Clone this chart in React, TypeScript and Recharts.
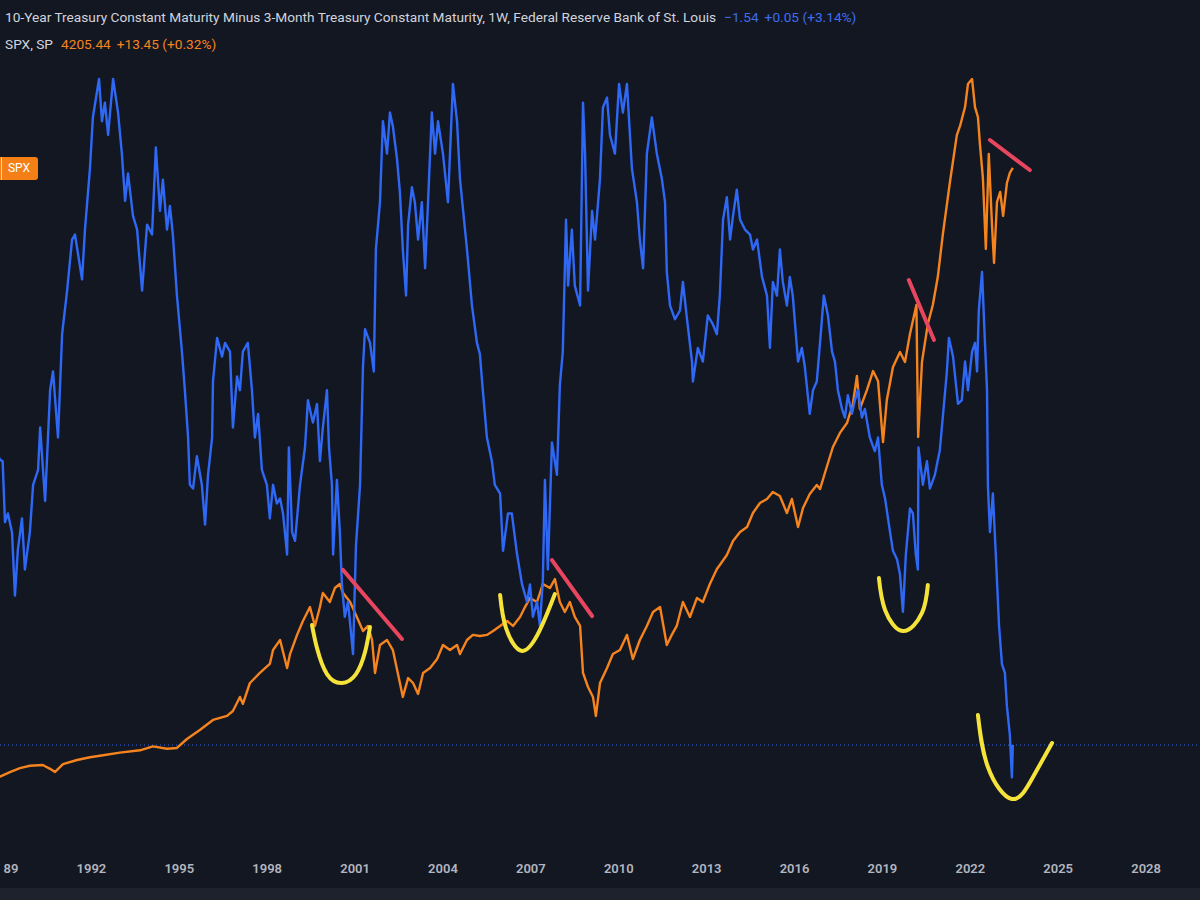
import React from 'react';
import { ComposedChart, Line, XAxis, YAxis, ReferenceLine } from 'recharts';

// 10Y minus 3M Treasury spread (%), weekly readings
const spreadYears = [
  1988.80, 1988.88, 1988.97, 1989.05, 1989.15, 1989.29, 1989.39, 1989.49, 1989.63, 1989.73, 1989.90,
  1990.01, 1990.18, 1990.25, 1990.42, 1990.59, 1990.69, 1990.86,
  1991.00, 1991.17, 1991.34, 1991.44, 1991.68, 1991.78, 1991.95,
  1992.05, 1992.26, 1992.36, 1992.46, 1992.57, 1992.74, 1992.91,
  1993.04, 1993.15, 1993.25, 1993.42, 1993.56, 1993.73, 1993.90,
  1994.07, 1994.20, 1994.34, 1994.44, 1994.58, 1994.68, 1994.78, 1994.92,
  1995.09, 1995.19, 1995.30, 1995.36, 1995.47, 1995.60, 1995.77, 1995.88, 1995.98,
  1996.12, 1996.15, 1996.29, 1996.46, 1996.56, 1996.73, 1996.83, 1996.97,
  1997.07, 1997.17, 1997.34, 1997.48, 1997.58, 1997.69, 1997.82, 1997.99,
  1998.09, 1998.20, 1998.33, 1998.44, 1998.54, 1998.68, 1998.74, 1998.85, 1998.95,
  1999.12, 1999.29, 1999.39, 1999.56, 1999.70, 1999.80, 1999.90,
  2000.04, 2000.11, 2000.21, 2000.25, 2000.38, 2000.48, 2000.55, 2000.65, 2000.76, 2000.93,
  2001.03, 2001.17, 2001.27, 2001.34, 2001.51, 2001.64, 2001.71, 2001.85, 2001.95,
  2002.09, 2002.19, 2002.29, 2002.43, 2002.53, 2002.63, 2002.74, 2002.81, 2002.94,
  2003.04, 2003.15, 2003.28, 2003.39, 2003.49, 2003.62, 2003.73, 2003.83,
  2004.00, 2004.17, 2004.34, 2004.48, 2004.58, 2004.82, 2004.99,
  2005.16, 2005.26, 2005.36, 2005.50, 2005.67, 2005.77, 2005.95,
  2006.05, 2006.22, 2006.35, 2006.53, 2006.70, 2006.87, 2006.97,
  2007.07, 2007.21, 2007.31, 2007.41, 2007.48, 2007.58, 2007.72, 2007.89, 2007.99,
  2008.09, 2008.20, 2008.27, 2008.40, 2008.50, 2008.68, 2008.78, 2008.85, 2008.95,
  2009.09, 2009.19, 2009.36, 2009.46, 2009.60, 2009.70, 2009.87,
  2010.01, 2010.14, 2010.28, 2010.45, 2010.62, 2010.72, 2010.83, 2010.96,
  2011.13, 2011.30, 2011.47, 2011.58, 2011.64, 2011.75, 2011.92,
  2012.09, 2012.19, 2012.33, 2012.50, 2012.53, 2012.70, 2012.87,
  2013.04, 2013.21, 2013.35, 2013.45, 2013.56, 2013.69, 2013.80, 2013.90,
  2014.03, 2014.14, 2014.31, 2014.48, 2014.58, 2014.72, 2014.89,
  2015.06, 2015.16, 2015.26, 2015.40, 2015.50, 2015.60, 2015.74, 2015.84, 2015.94,
  2016.12, 2016.25, 2016.35, 2016.52, 2016.63, 2016.76, 2016.87,
  2017.00, 2017.14, 2017.28, 2017.38, 2017.48, 2017.62, 2017.72, 2017.82, 2017.96,
  2018.06, 2018.16, 2018.30, 2018.40, 2018.57, 2018.74, 2018.85, 2018.98,
  2019.09, 2019.26, 2019.36, 2019.50, 2019.60, 2019.70, 2019.80, 2019.94,
  2020.04, 2020.14, 2020.21, 2020.23, 2020.38, 2020.52, 2020.62, 2020.79, 2020.96,
  2021.06, 2021.20, 2021.27, 2021.41, 2021.58, 2021.71, 2021.82, 2021.92,
  2022.06, 2022.16, 2022.23, 2022.29, 2022.40, 2022.50, 2022.57, 2022.60, 2022.67, 2022.77, 2022.87, 2022.98,
  2023.08, 2023.18, 2023.25, 2023.35, 2023.42, 2023.45,
];
const spreadValues = [
  0.80, 0.75, 0.74, 0.25, 0.32, 0.17, -0.34, 0.03, 0.28, -0.13, 0.17,
  0.55, 0.67, 1.01, 0.42, 1.31, 1.46, 0.93,
  1.76, 2.11, 2.52, 2.56, 2.20, 2.60, 3.09,
  3.50, 3.81, 3.47, 3.62, 3.36, 3.81, 3.54,
  3.21, 2.83, 3.05, 2.71, 2.60, 2.11, 2.64,
  2.56, 3.26, 2.75, 3.00, 2.60, 2.79, 2.56, 2.07,
  1.62, 1.31, 0.93, 0.55, 0.52, 0.78, 0.55, 0.23, 0.63,
  0.93, 1.38, 1.73, 1.58, 1.69, 1.62, 1.01, 1.42,
  1.31, 1.62, 1.69, 1.31, 0.93, 1.12, 0.67, 0.55,
  0.28, 0.55, 0.40, 0.44, 0.32, -0.01, 0.85, 0.17, 0.10,
  0.55, 0.85, 1.23, 1.05, 1.20, 0.74, 1.01,
  1.31, 0.85, 0.55, -0.01, 0.59, 0.17, -0.25, -0.51, -0.39, -0.81,
  0.06, 0.55, 1.50, 1.80, 1.69, 1.46, 2.44, 2.82, 3.47,
  3.21, 3.54, 3.43, 3.17, 2.90, 2.44, 2.07, 2.64, 2.94,
  2.82, 2.52, 2.82, 2.29, 2.82, 3.54, 3.21, 3.47,
  3.21, 2.82, 3.77, 3.47, 3.01, 2.44, 1.99,
  1.69, 1.60, 1.31, 0.93, 0.74, 0.55, 0.48,
  0.02, 0.32, 0.32, -0.01, -0.25, -0.39, -0.25,
  -0.51, -0.39, -0.58, -0.21, 0.59, -0.13, 0.89, 0.63, 1.35,
  1.62, 2.68, 2.15, 2.60, 2.15, 1.99, 3.62, 3.21, 2.11,
  2.75, 2.52, 3.01, 3.58, 3.66, 3.36, 3.21,
  3.77, 3.54, 3.77, 3.09, 2.82, 2.52, 2.29, 3.21,
  3.50, 3.21, 3.01, 2.82, 2.26, 1.99, 1.88,
  1.95, 2.18, 1.88, 1.54, 1.38, 1.65, 1.54,
  1.91, 1.84, 1.76, 2.07, 2.68, 2.86, 2.52, 2.71,
  2.92, 2.68, 2.60, 2.56, 2.44, 2.52, 2.22,
  2.07, 1.65, 2.18, 2.07, 2.44, 2.18, 1.99, 2.22, 2.07,
  1.54, 1.65, 1.50, 1.12, 1.31, 1.38, 1.69,
  2.07, 1.91, 1.62, 1.54, 1.31, 1.16, 1.09, 1.27, 1.12,
  1.23, 1.31, 1.09, 1.16, 0.93, 0.82, 0.93, 0.55,
  0.44, 0.17, 0.02, -0.05, -0.17, -0.47, -0.01, 0.36,
  0.32, -0.01, -0.13, 0.85, 0.55, 0.74, 0.52, 0.63, 0.83,
  1.09, 1.46, 1.73, 1.58, 1.20, 1.23, 1.54, 1.31,
  1.62, 1.69, 1.46, 1.95, 2.26, 1.69, 1.31, 0.55, 0.17, 0.48, -0.01, -0.58,
  -0.89, -0.96, -1.23, -1.46, -1.80, -1.54,
];

// S&P 500 index level
const spxYears = [
  1988.80, 1988.88, 1989.22, 1989.56, 1989.90,
  1990.34, 1990.59, 1990.76, 1991.03, 1991.51, 1991.95,
  1992.29, 1992.97, 1993.66, 1994.10, 1994.58, 1994.92,
  1995.26, 1995.70, 1996.15, 1996.63, 1996.83,
  1997.07, 1997.17, 1997.41, 1997.75, 1998.09, 1998.20, 1998.44, 1998.68, 1998.78,
  1999.02, 1999.22, 1999.46, 1999.63, 1999.80, 1999.90,
  2000.14, 2000.31, 2000.48, 2000.59, 2000.83,
  2001.06, 2001.27, 2001.44, 2001.58, 2001.68, 2001.85,
  2002.09, 2002.29, 2002.53, 2002.63, 2002.81, 2002.98,
  2003.15, 2003.32, 2003.56, 2003.80,
  2004.00, 2004.24, 2004.48, 2004.58, 2004.82,
  2005.02, 2005.26, 2005.50, 2005.71, 2005.95,
  2006.19, 2006.39, 2006.63, 2006.80, 2006.97,
  2007.21, 2007.41, 2007.65, 2007.82, 2007.99,
  2008.16, 2008.33, 2008.50, 2008.68, 2008.78, 2008.95,
  2009.12, 2009.22, 2009.36, 2009.60, 2009.80,
  2010.04, 2010.28, 2010.48, 2010.72, 2010.96,
  2011.17, 2011.41, 2011.64, 2011.81, 2011.98,
  2012.19, 2012.43, 2012.67, 2012.87,
  2013.11, 2013.35, 2013.45, 2013.69, 2013.90,
  2014.14, 2014.38, 2014.58, 2014.82,
  2015.06, 2015.26, 2015.50, 2015.74, 2015.91,
  2016.12, 2016.29, 2016.52, 2016.76, 2016.87,
  2017.11, 2017.31, 2017.55, 2017.79, 2017.99,
  2018.13, 2018.23, 2018.47, 2018.68, 2018.85,
  2019.02, 2019.15, 2019.36, 2019.60, 2019.77, 2019.94,
  2020.16, 2020.22, 2020.35, 2020.55, 2020.72, 2020.89,
  2021.06, 2021.30, 2021.54, 2021.65, 2021.82, 2021.92,
  2022.06, 2022.16, 2022.26, 2022.33, 2022.43, 2022.53, 2022.63, 2022.74, 2022.81, 2022.91,
  2023.02, 2023.12, 2023.25, 2023.35, 2023.45,
];
const spxValues = [
  268, 270, 299, 325, 340,
  345, 320, 300, 350, 377, 395,
  405, 425, 440, 465, 450, 455,
  513, 571, 636, 662, 694,
  785, 740, 875, 940, 998, 1088, 1153, 972, 1062,
  1186, 1276, 1366, 1244, 1366, 1457,
  1399, 1489, 1515, 1457, 1399,
  1302, 1211, 1244, 1153, 940, 1121,
  1153, 1088, 875, 785, 907, 875,
  804, 940, 972, 1030,
  1121, 1088, 1121, 1062, 1153,
  1186, 1179, 1186, 1211, 1244,
  1276, 1244, 1302, 1366, 1425,
  1399, 1515, 1489, 1547, 1399,
  1334, 1399, 1302, 1244, 940, 849,
  785, 662, 875, 972, 1062,
  1088, 1186, 1030, 1153, 1244,
  1334, 1366, 1121, 1186, 1244,
  1399, 1302, 1425, 1399,
  1515, 1612, 1638, 1703, 1793,
  1851, 1884, 1974, 2039,
  2065, 2110, 2084, 1974, 2065,
  1884, 2007, 2097, 2155, 2129,
  2278, 2401, 2492, 2556, 2679,
  2860, 2647, 2769, 2892, 2828,
  2433, 2705, 2918, 3015, 2951, 3132,
  3319, 2466, 2951, 3196, 3319, 3500,
  3772, 4108, 4418, 4477, 4599, 4748,
  4780, 4599, 4535, 4354, 4140, 3681, 4296, 3836, 3591, 3985,
  4050, 3895, 4108, 4173, 4205.44,
];

const yearTicks = [1989, 1992, 1995, 1998, 2001, 2004, 2007, 2010, 2013, 2016, 2019, 2022, 2025, 2028];

const spreadLast = -1.54;

// Hand-drawn annotations, in data units (year, SPX level)
const redSegments = [
  { x1: 2000.59, y1: 1606, x2: 2002.60, y2: 1160 },
  { x1: 2007.72, y1: 1670, x2: 2009.09, y2: 1308 },
  { x1: 2019.90, y1: 3481, x2: 2020.76, y2: 3093 },
  { x1: 2022.67, y1: 4386, x2: 2024.03, y2: 4192 },
];
const arcYears = [
  [1999.53, 1999.70, 2000.04, 2000.55, 2001.03, 2001.34, 2001.51],
  [2005.95, 2006.15, 2006.70, 2007.31, 2007.82],
  [2018.88, 2019.09, 2019.70, 2020.35, 2020.55],
  [2022.26, 2022.60, 2023.42, 2024.14, 2024.79],
];
const arcLevels = [
  [1250, 1101, 933, 875, 933, 1075, 1237],
  [1444, 1231, 1082, 1218, 1450],
  [1554, 1347, 1211, 1328, 1509],
  [668, 332, 125, 267, 487],
];

const spreadData = spreadYears.map((t, i) => ({ t, v: spreadValues[i] }));
const spxData = spxYears.map((t, i) => ({ t, v: spxValues[i] }));
const arcData = arcYears.map((ys, k) => ys.map((t, i) => ({ t, v: arcLevels[k][i] })));

const BG = '#131722';
const BLUE = '#2f68f5';
const ORANGE = '#f5841f';
const RED = '#e8465e';
const YELLOW = '#f6e33a';

// The first year label sits at the left edge and shows only its last two digits
const YearTick = (props: any) => {
  const { x, y, payload } = props;
  const first = payload.value === yearTicks[0];
  const label = first ? String(payload.value).slice(2) : String(payload.value);
  return (
    <text
      x={x}
      y={y}
      dy="0.71em"
      textAnchor={first ? 'start' : 'middle'}
      fill="#b2b5be"
      fontSize={13}
      fontWeight={600}
      fontFamily="Roboto, sans-serif"
    >
      {label}
    </text>
  );
};

export default function App() {
  return (
    <div style={{ position: 'absolute', left: 0, top: 0, width: 1200, height: 900, background: BG, overflow: 'hidden' }}>
      <ComposedChart width={1200} height={888} margin={{ top: 0, right: 0, left: 0, bottom: 0 }}>
        <XAxis
          dataKey="t"
          type="number"
          domain={[1988.88, 2029.84]}
          allowDataOverflow
          ticks={yearTicks}
          interval={0}
          tickLine={false}
          axisLine={false}
          height={38}
          tickMargin={8}
          tick={<YearTick />}
        />
        <YAxis yAxisId="spread" type="number" domain={[-2.383, 4.444]} allowDataOverflow hide />
        <YAxis yAxisId="spx" type="number" domain={[-204.8, 5291.3]} allowDataOverflow hide />
        <ReferenceLine yAxisId="spread" y={spreadLast} stroke={BLUE} strokeDasharray="1 3" strokeWidth={1} />
        <Line data={spxData} dataKey="v" yAxisId="spx" type="linear" dot={false} activeDot={false} stroke={ORANGE} strokeWidth={2.4} strokeLinejoin="round" isAnimationActive={false} />
        <Line data={spreadData} dataKey="v" yAxisId="spread" type="linear" dot={false} activeDot={false} stroke={BLUE} strokeWidth={2.4} strokeLinejoin="round" isAnimationActive={false} />
        {redSegments.map((s, i) => (
          <ReferenceLine
            key={'r' + i}
            yAxisId="spx"
            segment={[{ x: s.x1, y: s.y1 }, { x: s.x2, y: s.y2 }]}
            stroke={RED}
            strokeWidth={4}
            strokeLinecap="round"
            ifOverflow="visible"
          />
        ))}
        {arcData.map((d, i) => (
          <Line
            key={'a' + i}
            data={d}
            dataKey="v"
            yAxisId="spx"
            type="natural"
            dot={false}
            activeDot={false}
            stroke={YELLOW}
            strokeWidth={4}
            strokeLinecap="round"
            isAnimationActive={false}
          />
        ))}
      </ComposedChart>
      <div style={{ position: 'absolute', left: 0, top: 888, width: 1200, height: 12, background: '#1e222d' }} />
      <div style={{ position: 'absolute', left: 5, top: 9, fontFamily: 'Roboto, sans-serif', fontSize: 13.7, color: '#d1d4dc', whiteSpace: 'nowrap' }}>
        10-Year Treasury Constant Maturity Minus 3-Month Treasury Constant Maturity, 1W, Federal Reserve Bank of St. Louis
        <span style={{ color: '#3d6cf0', marginLeft: 8 }}>−1.54</span>
        <span style={{ color: '#3d6cf0', marginLeft: 6 }}>+0.05 (+3.14%)</span>
      </div>
      <div style={{ position: 'absolute', left: 5, top: 36, fontFamily: 'Roboto, sans-serif', fontSize: 13.7, color: '#d1d4dc', whiteSpace: 'nowrap' }}>
        SPX, SP
        <span style={{ color: ORANGE, marginLeft: 8 }}>4205.44</span>
        <span style={{ color: ORANGE, marginLeft: 6 }}>+13.45 (+0.32%)</span>
      </div>
      <div style={{ position: 'absolute', left: 0, top: 157, width: 38, height: 23, background: '#f57f17', borderRadius: '0 3px 3px 0', color: '#ffffff', fontFamily: 'Roboto, sans-serif', fontSize: 12, lineHeight: '23px', textAlign: 'center' }}>
        SPX
      </div>
      <div style={{ position: 'absolute', left: 1, top: 157, width: 1, height: 23, background: '#f3d9b8' }} />
    </div>
  );
}
